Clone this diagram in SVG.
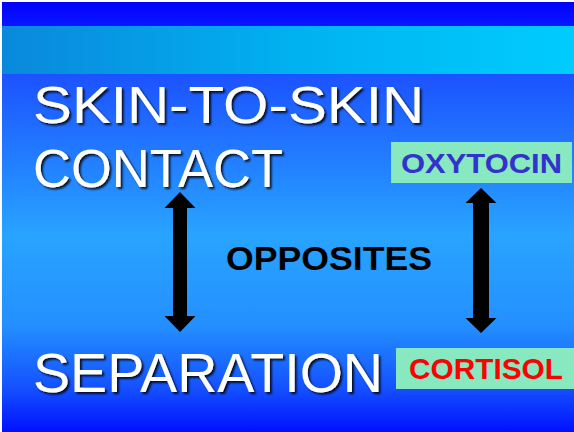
<svg xmlns="http://www.w3.org/2000/svg" width="574" height="432" viewBox="0 0 574 432">
  <defs>
    <linearGradient id="gTop" x1="0" y1="0" x2="0" y2="1">
      <stop offset="0" stop-color="#0000ff"/>
      <stop offset="1" stop-color="#0a16ff"/>
    </linearGradient>
    <linearGradient id="gBand" x1="0" y1="0" x2="1" y2="0">
      <stop offset="0" stop-color="#0a88dc"/>
      <stop offset="0.55" stop-color="#00b4f2"/>
      <stop offset="1" stop-color="#00ccfe"/>
    </linearGradient>
    <linearGradient id="gMain" x1="0" y1="0" x2="0" y2="1">
      <stop offset="0" stop-color="#1c52ff"/>
      <stop offset="0.45" stop-color="#28a4ff"/>
      <stop offset="0.7" stop-color="#2490ff"/>
      <stop offset="0.88" stop-color="#1450ff"/>
      <stop offset="1" stop-color="#0010ff"/>
    </linearGradient>
    <filter id="shadow" x="-5%" y="-20%" width="110%" height="140%">
      <feDropShadow dx="2" dy="2" stdDeviation="0.8" flood-color="#000" flood-opacity="0.85"/>
    </filter>
  </defs>
  <style>
    .big { font-family: "Comic Sans MS", "Liberation Sans", sans-serif; fill: #ffffff; filter: url(#shadow); }
    .lbl { font-family: "Comic Sans MS", "Liberation Sans", sans-serif; font-weight: bold; }
    .box { fill: #88e8c0; }
    .arrow { fill: #000000; }
  </style>

  <rect x="0" y="0" width="574" height="432" fill="#ffffff"/>
  <rect x="2" y="2" width="572" height="24" fill="url(#gTop)"/>
  <rect x="2" y="26" width="572" height="48" fill="url(#gBand)"/>
  <rect x="2" y="74" width="572" height="358" fill="url(#gMain)"/>

  <g id="skin-to-skin">
    <text class="big" x="33" y="123" font-size="52" textLength="391" lengthAdjust="spacingAndGlyphs">SKIN-TO-SKIN</text>
    <text class="big" x="33" y="187" font-size="53" textLength="250" lengthAdjust="spacingAndGlyphs">CONTACT</text>
  </g>

  <g id="oxytocin">
    <rect class="box" x="391" y="142" width="181" height="41"/>
    <text class="lbl" x="401" y="173" font-size="28" fill="#3333cc" textLength="161" lengthAdjust="spacingAndGlyphs">OXYTOCIN</text>
  </g>

  <g id="opposites">
    <text class="lbl" x="226" y="270" font-size="34" fill="#000000" textLength="206" lengthAdjust="spacingAndGlyphs">OPPOSITES</text>
  </g>

  <g id="separation">
    <text class="big" x="33" y="392" font-size="55" textLength="350" lengthAdjust="spacingAndGlyphs">SEPARATION</text>
  </g>

  <g id="cortisol">
    <rect class="box" x="396" y="348" width="178" height="41"/>
    <text class="lbl" x="409" y="379" font-size="30" fill="#ff0000" textLength="154" lengthAdjust="spacingAndGlyphs">CORTISOL</text>
  </g>

  <g id="connectors">
    <polygon class="arrow" points="180,192 195.5,208 187,208 187,316 195.5,316 180,332 164.5,316 173,316 173,208 164.5,208"/>
    <polygon class="arrow" points="481,188 496.5,203 489,203 489,318 496.5,318 481,333 465.5,318 473,318 473,203 465.5,203"/>
  </g>
</svg>
